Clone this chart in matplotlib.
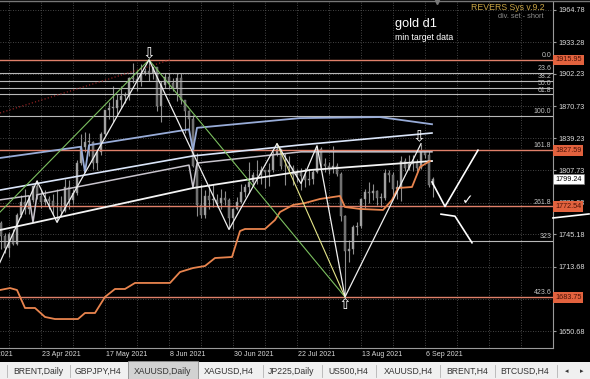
import numpy as np
import pandas as pd
import matplotlib
matplotlib.use("Agg")
import matplotlib.pyplot as plt
from matplotlib.patches import Rectangle
from matplotlib.lines import Line2D

plt.rcParams['font.family'] = ['Liberation Sans', 'DejaVu Sans']

# ---------------- data (XAUUSD daily) ----------------
dates = pd.bdate_range('2021-04-01', '2021-09-08')

open_ = [1707, 1728, 1728, 1728, 1743, 1737, 1756, 1744, 1732, 1746, 1736, 1764, 1777, 1770, 1779, 1793, 1783, 1777, 1780, 1778, 1773, 1772,
         1768, 1792, 1779, 1786, 1815, 1831, 1836, 1836, 1815, 1826, 1843, 1867, 1869, 1869, 1877, 1881, 1881, 1898, 1897, 1895, 1903,
         1905, 1903, 1909, 1871, 1891, 1899, 1893, 1888, 1898, 1877, 1866, 1858, 1812, 1774, 1764, 1783, 1779, 1779, 1776, 1781, 1779, 1761,
         1770, 1777, 1787, 1792, 1796, 1803, 1803, 1808, 1806, 1808, 1824, 1829, 1812, 1812, 1810, 1803, 1806, 1802, 1798, 1799, 1806, 1829,
         1814, 1812, 1810, 1812, 1804, 1763, 1729, 1731, 1752, 1753, 1780, 1787, 1786, 1788, 1781, 1781, 1805, 1803, 1790, 1792, 1817, 1810,
         1814, 1815, 1810, 1827, 1823, 1794]
high_ = [1732, 1731, 1741, 1746, 1745, 1758, 1758, 1747, 1748, 1750, 1766, 1784, 1790, 1782, 1794, 1798, 1790, 1789, 1783, 1785, 1790, 1783,
         1799, 1798, 1790, 1818, 1843, 1845, 1844, 1837, 1829, 1845, 1867, 1875, 1890, 1883, 1890, 1885, 1899, 1913, 1906, 1912, 1908,
         1916, 1909, 1909, 1895, 1903, 1903, 1898, 1903, 1903, 1877, 1867, 1862, 1825, 1795, 1789, 1795, 1795, 1785, 1790, 1788, 1781, 1771,
         1782, 1795, 1795, 1816, 1806, 1818, 1812, 1808, 1815, 1827, 1834, 1829, 1825, 1822, 1813, 1809, 1810, 1810, 1809, 1808, 1832, 1831,
         1820, 1816, 1832, 1815, 1806, 1764, 1740, 1754, 1757, 1781, 1790, 1796, 1795, 1789, 1786, 1809, 1808, 1806, 1798, 1822, 1820, 1823,
         1823, 1819, 1834, 1828, 1827, 1801]
low_ = [1705, 1724, 1721, 1726, 1732, 1735, 1731, 1727, 1723, 1735, 1735, 1762, 1765, 1765, 1777, 1780, 1771, 1774, 1770, 1764, 1757, 1763,
        1767, 1770, 1775, 1784, 1813, 1826, 1822, 1809, 1808, 1823, 1842, 1858, 1855, 1863, 1869, 1874, 1877, 1893, 1886, 1890, 1901,
        1895, 1897, 1866, 1855, 1888, 1887, 1886, 1876, 1873, 1844, 1845, 1811, 1763, 1761, 1761, 1770, 1772, 1772, 1770, 1774, 1751, 1750,
        1769, 1776, 1782, 1786, 1793, 1795, 1795, 1791, 1793, 1806, 1822, 1809, 1794, 1806, 1794, 1796, 1789, 1792, 1794, 1795, 1805, 1810,
        1806, 1804, 1805, 1802, 1758, 1684, 1718, 1726, 1745, 1751, 1771, 1776, 1779, 1774, 1772, 1779, 1796, 1782, 1780, 1778, 1807, 1808,
        1807, 1807, 1809, 1820, 1792, 1782]
close_ = [1728, 1728, 1728, 1743, 1737, 1756, 1744, 1732, 1746, 1736, 1764, 1777, 1770, 1779, 1793, 1783, 1777, 1780, 1778, 1773, 1772, 1768,
          1792, 1779, 1786, 1815, 1831, 1836, 1836, 1815, 1826, 1843, 1867, 1869, 1869, 1877, 1881, 1881, 1898, 1897, 1895, 1903, 1905,
          1903, 1909, 1871, 1891, 1899, 1893, 1888, 1898, 1877, 1866, 1858, 1812, 1774, 1764, 1783, 1779, 1779, 1776, 1781, 1779, 1761, 1770,
          1777, 1787, 1792, 1796, 1803, 1803, 1808, 1806, 1808, 1824, 1829, 1812, 1812, 1810, 1803, 1806, 1802, 1798, 1799, 1806, 1829, 1814,
          1812, 1810, 1812, 1804, 1763, 1729, 1731, 1752, 1753, 1780, 1787, 1786, 1788, 1781, 1781, 1805, 1803, 1790, 1792, 1817, 1810, 1814,
          1815, 1810, 1827, 1823, 1794, 1799.24]

# price scale (1682.18 sits under the 1683.75 box, so it has no visible label)
price_ticks = [1964.78, 1933.28, 1902.23, 1870.73, 1839.23, 1807.73, 1776.23, 1745.18, 1713.68, 1682.18, 1650.68]
price_tick_labels = ['1964.78', '1933.28', '1902.23', '1870.73', '1839.23', '1807.73', '1776.23', '1745.18', '1713.68', '', '1650.68']
date_labels = ['1 Apr 2021', '23 Apr 2021', '17 May 2021', '8 Jun 2021', '30 Jun 2021', '22 Jul 2021', '13 Aug 2021', '6 Sep 2021']
date_label_days = ['2021-04-01', '2021-04-23', '2021-05-17', '2021-06-08', '2021-06-30', '2021-07-22', '2021-08-13', '2021-09-06']

# fibo levels
fib_names = ['0.0', '23.6', '38.2', '50.0', '61.8', '100.0', '161.8', '261.8', '323', '423.6']
fib_prices = [1915.95, 1903.0, 1895.0, 1888.6, 1882.1, 1861.2, 1827.59, 1772.54, 1738.7, 1683.75]
fib_red = [True, False, False, False, False, False, True, True, False, True]
box_prices = [1915.95, 1827.59, 1772.54, 1683.75]
last_price = 1799.24

# indicator lines: (bar index, price)
green_i = [3, 43, 92]
green_p = [1756, 1916, 1684]
yellow_i = [75, 92]
yellow_p = [1834, 1684]
zz_i = [4, 15, 20, 43, 63, 75, 81, 85, 92, 111]
zz_p = [1703, 1797.5, 1757, 1916, 1750, 1834, 1795, 1832, 1684, 1834]
proj_i = [113.75, 117, 125.25]
proj_p = [1796.5, 1772.5, 1827.6]
alt_i = [116, 119.5, 123.75]
alt_p = [1765, 1763, 1737]
edge_i = [144, 153]
edge_p = [1761.3, 1765.2]
band_u_i = [5.75, 26, 27, 28, 53, 54, 55, 80.75, 100.75, 113.75]
band_u_p = [1820, 1831, 1806, 1832.5, 1848, 1828, 1849.5, 1859, 1860, 1853]
band_m_i = [5.75, 54, 80.75, 113.75]
band_m_p = [1788.6, 1822, 1832.7, 1844.4]
band_g_i = [5.75, 13, 14, 15, 53, 54, 55, 81, 113.75]
band_g_p = [1779, 1783, 1757, 1784, 1813, 1791, 1815, 1826, 1826]
band_l_i = [5.75, 14, 54, 83.25, 113.75]
band_l_p = [1749.5, 1756.4, 1790.6, 1808.2, 1817]
trend_i = [5.75, 48.25]
trend_p = [1864, 1916]
stop_i = [5.75, 8.25, 10, 12, 14.5, 17, 19.5, 25.25, 27, 29.5, 32, 34.5, 37, 39.5, 48.25, 50.75, 54, 57, 59.5, 63.75,
          65.75, 67, 72, 74.5, 75.75, 79, 82, 85.75, 90.75, 92, 95.75, 101.5, 103.75, 105.25, 108.75, 110.75, 113.25]
stop_p = [1690.8, 1692.7, 1690.8, 1673.2, 1673.2, 1664.4, 1662.4, 1662.4, 1668.3, 1668.3, 1684.0, 1691.8, 1691.8, 1697.7, 1697.7,
          1708.4, 1712.3, 1714.3, 1722.1, 1723.1, 1748.5, 1750.5, 1750.5, 1759.3, 1767.1, 1774.0, 1775.9, 1779.9, 1782.8, 1772.0,
          1770.1, 1769.1, 1778.9, 1790.6, 1791.6, 1811.2, 1817.0]

tab_names = ['BRENT,Daily', 'GBPJPY,H4', 'XAUUSD,Daily', 'XAGUSD,H4', 'JP225,Daily', 'US500,H4', 'XAUUSD,H4', 'BRENT,H4', 'BTCUSD,H4']

# ---------------- figure ----------------
W, H = 590, 379


def px(x, y):
    return x / W, 1 - y / H


fig = plt.figure(figsize=(W / 100, H / 100), dpi=100, facecolor='black')
ax = fig.add_axes([0, 1 - 348 / H, 553 / W, 346 / H])
ax.set_facecolor('black')
ax.set_xlim(5.75, 144)
ax.set_ylim(1634.05, 1972.6)

for s in ['left', 'top']:
    ax.spines[s].set_visible(False)
for s in ['right', 'bottom']:
    ax.spines[s].set_color('#9a9a9a')
    ax.spines[s].set_linewidth(0.8)

ax.yaxis.tick_right()
ax.set_yticks(price_ticks)
ax.set_yticklabels(price_tick_labels)
ax.tick_params(axis='y', colors='#9a9a9a', labelcolor='#dcdcdc', labelsize=5.2, length=2, pad=2)
ax.set_xticks([])

# grid
ax.vlines(np.arange(0, 145, 8), 1634.05, 1972.6, colors='#5c5c5c', linestyles=(0, (1, 2)), lw=0.6, zorder=0)
ax.hlines(price_ticks, 5.75, 144, colors='#5c5c5c', linestyles=(0, (1, 2)), lw=0.6, zorder=0)

# date labels
xt = ax.get_xaxis_transform()
for lab, d in zip(date_labels, date_label_days):
    pos = dates.get_loc(pd.Timestamp(d))
    ax.text(pos + 0.3, -0.008, lab, transform=xt, ha='left', va='top', fontsize=5.1,
            color='#d8d8d8', clip_on=False)

# candles
idx = np.arange(len(dates))
o = np.array(open_, float)
h = np.array(high_, float)
l = np.array(low_, float)
c = np.array(close_, float)
up = c >= o
ax.vlines(idx, l, h, colors='#8e8e8e', lw=0.8, zorder=2)
ax.bar(idx, np.maximum(np.abs(c - o), 0.6), bottom=np.minimum(o, c), width=0.6,
       color=np.where(up, '#a6a6a6', '#6a6a6a'), edgecolor='#8e8e8e', lw=0.3, zorder=2)

# fibo lines
yt = ax.get_yaxis_transform()
for name, p, red in zip(fib_names, fib_prices, fib_red):
    col = '#e0806a' if red else '#b8b8b8'
    ax.axhline(p, color=col, lw=1.0 if red else 0.8, zorder=3)
    ax.text(0.997, p + 0.8, name, transform=yt, ha='right', va='bottom', fontsize=5.0,
            color='#c4c4c4', zorder=6)

# bands / indicators
ax.plot(trend_i, trend_p, color='#b02a2a', lw=0.8, ls=(0, (1, 2)), zorder=3)
ax.plot(band_u_i, band_u_p, color='#98acd8', lw=1.3, zorder=4)
ax.plot(band_m_i, band_m_p, color='#dbe6fa', lw=1.2, zorder=4)
ax.plot(band_g_i, band_g_p, color='#c8c4cc', lw=1.1, zorder=4)
ax.plot(band_l_i, band_l_p, color='#f4f4f4', lw=1.3, zorder=4)
ax.plot(stop_i, stop_p, color='#e8844e', lw=1.3, zorder=4)

# zigzag and patterns
ax.plot(green_i, green_p, color='#7cc060', lw=0.8, zorder=5)
ax.plot(yellow_i, yellow_p, color='#e6e68a', lw=0.8, zorder=5)
ax.plot(zz_i, zz_p, color='#f0f0f0', lw=0.9, zorder=5)
ax.plot(proj_i, proj_p, color='white', lw=1.2, zorder=5)
ax.plot(alt_i, alt_p, color='white', lw=1.2, zorder=5)
ax.plot(edge_i, edge_p, color='white', lw=1.2, zorder=5, clip_on=False)

# arrows and check mark
ax.text(43, 1915, '\u21e9', family='DejaVu Sans', fontsize=11, color='white', ha='center', va='bottom', zorder=7)
ax.text(110.5, 1833, '\u21e9', family='DejaVu Sans', fontsize=11, color='white', ha='center', va='bottom', zorder=7)
ax.text(92, 1684, '\u21e7', family='DejaVu Sans', fontsize=11, color='white', ha='center', va='top', zorder=7)
ax.text(122.75, 1778.5, '\u2713', family='DejaVu Sans', fontsize=10, color='white', ha='center', va='center', zorder=7)

# price boxes
for p in box_prices:
    ax.text(1.004, p, f'{p:.2f}', transform=yt, ha='left', va='center', fontsize=5.2, color='#4a1206',
            bbox=dict(boxstyle='square,pad=0.25', fc='#e2623e', ec='none'), clip_on=False, zorder=10)
ax.text(1.004, last_price, f'{last_price:.2f}', transform=yt, ha='left', va='center', fontsize=5.2, color='black',
        bbox=dict(boxstyle='square,pad=0.25', fc='white', ec='#808080', lw=0.5), clip_on=False, zorder=10)

# header texts
fig.text(*px(545, 8), 'REVERS Sys v.9.2', ha='right', va='center', fontsize=6.3, color='#c8a444')
fig.text(*px(543, 17), 'div. set - short', ha='right', va='center', fontsize=5.3, color='#8c8c8c')
fig.text(*px(395, 24), 'gold d1', ha='left', va='center', fontsize=9.2, color='white')
fig.text(*px(395, 38), 'min target data', ha='left', va='center', fontsize=6.3, color='white')

# top border
fig.add_artist(Line2D([0, 1], [1 - 1 / H, 1 - 1 / H], color='#777777', lw=1.0))
fig.add_artist(Line2D([437 / W], [1 - 2 / H], marker='v', color='#777777', markersize=3, lw=0))

# tab bar
fig.add_artist(Rectangle(px(0, 379), 1, 17 / H, facecolor='#f0f0f0', edgecolor='none'))
fig.add_artist(Rectangle(px(128, 379), 70 / W, 18 / H, facecolor='#d2d2d2', edgecolor='#8c8c8c', lw=0.6))
for sx in [7, 70, 263, 322, 376, 440, 495, 557]:
    fig.add_artist(Line2D([sx / W, sx / W], [1 - 377 / H, 1 - 365 / H], color='#b4b4b4', lw=0.6))
tab_x = [38, 98, 163, 229, 291, 348, 408, 467, 525]
for name, tx in zip(tab_names, tab_x):
    fig.text(*px(tx, 371), name, ha='center', va='center', fontsize=6.2, color='#333333')
fig.text(*px(567, 371), '\u25c2', family='DejaVu Sans', ha='center', va='center', fontsize=5, color='#333333')
fig.text(*px(582, 371), '\u25b8', family='DejaVu Sans', ha='center', va='center', fontsize=5, color='#333333')

fig.savefig('out.png', dpi=100, facecolor='black')
